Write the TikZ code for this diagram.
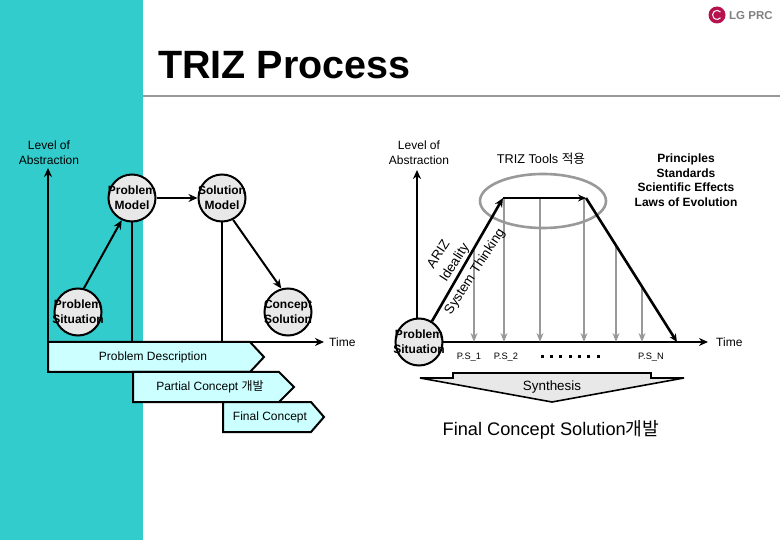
\documentclass[tikz,border=0pt]{standalone}
\usepackage{fontspec}
\setmainfont{Liberation Sans}
\newfontfamily\krfont{Noto Sans CJK KR}
\usepackage{xcolor}
\usetikzlibrary{arrows.meta,positioning,calc}
\definecolor{tealbg}{HTML}{33CCCC}
\definecolor{paleblue}{HTML}{CCFFFF}
\definecolor{circgray}{HTML}{E8E8E8}
\definecolor{linegray}{HTML}{999999}
\definecolor{lgred}{HTML}{B5124E}
\newcommand{\ctr}[1]{\makebox[0pt]{#1}}
\tikzset{
  txt/.style={font=\fontsize{12}{15}\selectfont,align=center,inner sep=0pt},
  tapetxt/.style={font=\fontsize{12}{14}\selectfont,inner sep=0pt},
  tiny/.style={font=\fontsize{9.3}{11}\selectfont,inner sep=0pt},
  slant/.style={font=\fontsize{13.4}{15}\selectfont,inner sep=0pt,rotate=57},
  step circle/.style={draw,line width=2pt,fill=circgray,circle,minimum size=47pt,inner sep=0pt,align=center,font=\bfseries\fontsize{12}{15}\selectfont},
  axis/.style={line width=2pt,-{Stealth[length=9pt,width=8pt]}},
  link/.style={line width=2pt},
  tape/.style={draw,line width=2pt,fill=paleblue},
  drop/.style={linegray,-{Stealth[length=9pt,width=7pt]}},
}
\begin{document}
\begin{tikzpicture}[x=1pt,y=-1pt]
\useasboundingbox (0,0) rectangle (780,540);
\fill[tealbg] (0,0) rectangle (143,540);
\draw[linegray,line width=1.2pt] (143,96) -- (780,96);
\node[font=\bfseries\fontsize{39.5}{41}\selectfont,anchor=west,inner sep=0pt] (title) at (158,65) {TRIZ Process};
\fill[lgred] (717,15) circle (8.5);
\draw[white,line width=1pt] (720.5,12) arc (-40:-320:4.5);
\node[font=\bfseries\fontsize{11.5}{12}\selectfont,text=gray,anchor=west,inner sep=0pt] (lg) at (729,15.5) {LG PRC};
% left panel
\begin{scope}
  \coordinate (originL) at (48,342);
  \coordinate (topL) at (48,168);
  \coordinate (timeL) at (324,342);
  \draw[tape] (48,342) -- (250,342) -- (264,357) -- (250,372) -- (48,372) -- cycle;
  \draw[tape] (133,372) -- (279,372) -- (294,387) -- (279,402) -- (133,402) -- cycle;
  \draw[tape] (223,402) -- (311,402) -- (324,417) -- (311,432) -- (223,432) -- cycle;
  \node[tapetxt] (desc) at (153,357) {Problem Description};
  \node[tapetxt] (partial) at (210,387) {Partial Concept {\krfont 개발}};
  \node[tapetxt] (final) at (270,417) {Final Concept};
  \draw[axis] (originL) -- (topL);
  \draw[axis] (originL) -- (timeL);
  \node[txt] (levelL) at (49,153) {Level of\\Abstraction};
  \node[txt,anchor=west] (timeLabelL) at (329,342) {Time};
  \node[step circle] (pm) at (132,198) {\ctr{Problem}\\\ctr{Model}};
  \node[step circle] (sm) at (222,198) {\ctr{Solution}\\\ctr{Model}};
  \node[step circle] (ps) at (78,312) {\ctr{Problem}\\\ctr{Situation}};
  \node[step circle] (cs) at (288,312) {\ctr{Concept}\\\ctr{Solution}};
  \draw[axis] (ps.76) -- (pm.245);
  \draw[axis] (pm) -- (sm);
  \draw[axis] (sm.-63) -- (cs.106);
  \draw[link] (pm) -- (pm |- originL);
  \draw[link] (sm) -- (sm |- originL);
\end{scope}
% right panel
\begin{scope}
  \coordinate (originR) at (419,342);
  \coordinate (topR) at (417,170);
  \coordinate (timeR) at (708,342);
  \coordinate (up) at (503,198);
  \coordinate (over) at (586,198);
  \coordinate (down) at (677,342);
  \coordinate (g1) at (474,247);
  \coordinate (g2) at (504,198);
  \coordinate (g3) at (540,198);
  \coordinate (g4) at (584,198);
  \coordinate (g5) at (616,245);
  \coordinate (g6) at (642,288);
  \draw[axis] (417,320) -- (topR);
  \draw[axis] (originR) -- (timeR);
  \node[txt] (levelR) at (419,153) {Level of\\Abstraction};
  \node[txt,anchor=west] (timeLabelR) at (716,342) {Time};
  \node[txt,font=\fontsize{12.7}{15}\selectfont] (tools) at (541,159) {TRIZ Tools {\krfont 적용}};
  \node[txt,font=\bfseries\fontsize{12}{14.5}\selectfont] (laws) at (686,180) {Principles\\Standards\\Scientific Effects\\Laws of Evolution};
  \draw[linegray,line width=2.6pt] (543,201) ellipse (63 and 27);
  \draw[drop,line width=1.6pt] (g1) -- (g1 |- originR);
  \draw[drop,line width=1.4pt] (g2) -- (g2 |- originR);
  \draw[drop,line width=1.4pt] (g3) -- (g3 |- originR);
  \draw[drop,line width=2.4pt] (g4) -- (g4 |- originR);
  \draw[drop,line width=2.4pt] (g5) -- (g5 |- originR);
  \draw[drop,line width=1.6pt] (g6) -- (g6 |- originR);
  \node[step circle] (psr) at (originR) {\ctr{Problem}\\\ctr{Situation}};
  \draw[line width=2.6pt,-{Stealth[length=9pt,width=8pt]}] (psr.58) -- (up);
  \draw[line width=2.6pt,-{Stealth[length=8pt,width=7pt]}] (up) -- (over);
  \draw[line width=2.6pt,-{Stealth[length=8pt,width=7pt]}] (over) -- (down);
  \node[slant] (ariz) at (438,254) {ARIZ};
  \node[slant] (ideal) at (455,263) {Ideality};
  \node[slant] (sys) at (475,272) {System Thinking};
  \node[tiny] (ps1) at (469,357) {P.S\_1};
  \node[tiny] (ps2) at (506,357) {P.S\_2};
  \node[tiny] (psn) at (651,357) {P.S\_N};
  \foreach \x in {542,551.3,560.7,570,579.3,588.7,598}
    \fill (\x-1.5,355.5) rectangle (\x+1.5,358.5);
  \draw[line width=1.6pt,fill=circgray] (420,378) -- (453,378) -- (453,373) -- (651,373) -- (651,378) -- (684,378) -- (552,402) -- cycle;
  \node[txt,font=\fontsize{13.4}{15}\selectfont] (synth) at (552,387) {Synthesis};
  \node[txt,font=\fontsize{18.2}{20}\selectfont] (result) at (551,430) {Final Concept Solution{\krfont 개발}};
\end{scope}
\end{tikzpicture}
\end{document}
